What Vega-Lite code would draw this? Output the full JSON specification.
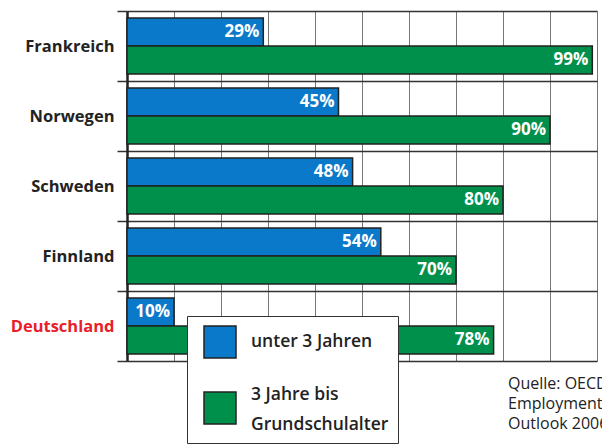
{
  "$schema": "https://vega.github.io/schema/vega-lite/v6.json",
  "width": 470,
  "height": 350,
  "autosize": "none",
  "padding": {"left": 127, "top": 11, "right": 5, "bottom": 84},
  "background": "white",
  "config": {
    "view": {"stroke": null},
    "font": "Open Sans",
    "legend": {"strokeColor": "#333"}
  },
  "title": {
    "text": ["Quelle: OECD", "Employment", "Outlook 2006"],
    "orient": "bottom",
    "anchor": "start",
    "frame": "group",
    "dx": 381,
    "offset": -68,
    "fontSize": 16,
    "fontWeight": "normal",
    "lineHeight": 20,
    "color": "#222"
  },
  "data": {
    "values": [
      {"land": "Frankreich", "gruppe": "unter 3 Jahren", "anteil": 0.29},
      {"land": "Frankreich", "gruppe": "3 Jahre bis Grundschulalter", "anteil": 0.99},
      {"land": "Norwegen", "gruppe": "unter 3 Jahren", "anteil": 0.45},
      {"land": "Norwegen", "gruppe": "3 Jahre bis Grundschulalter", "anteil": 0.90},
      {"land": "Schweden", "gruppe": "unter 3 Jahren", "anteil": 0.48},
      {"land": "Schweden", "gruppe": "3 Jahre bis Grundschulalter", "anteil": 0.80},
      {"land": "Finnland", "gruppe": "unter 3 Jahren", "anteil": 0.54},
      {"land": "Finnland", "gruppe": "3 Jahre bis Grundschulalter", "anteil": 0.70},
      {"land": "Deutschland", "gruppe": "unter 3 Jahren", "anteil": 0.10},
      {"land": "Deutschland", "gruppe": "3 Jahre bis Grundschulalter", "anteil": 0.78}
    ]
  },
  "encoding": {
    "y": {
      "field": "land",
      "type": "nominal",
      "sort": ["Frankreich", "Norwegen", "Schweden", "Finnland", "Deutschland"],
      "scale": {"paddingInner": 0, "paddingOuter": 0},
      "axis": {
        "title": null,
        "tickBand": "extent",
        "grid": true,
        "gridColor": "#333",
        "gridWidth": 1.5,
        "tickColor": "#333",
        "tickWidth": 1.5,
        "tickSize": 10,
        "domainColor": "#222",
        "domainWidth": 2.5,
        "labelFont": "Open Sans",
        "labelFontWeight": "bold",
        "labelFontSize": 16.5,
        "labelPadding": 3,
        "labelColor": {"condition": {"test": "datum.value == 'Deutschland'", "value": "#e8202a"}, "value": "#222"}
      }
    },
    "yOffset": {
      "field": "gruppe",
      "type": "nominal",
      "sort": ["unter 3 Jahren", "3 Jahre bis Grundschulalter"],
      "scale": {"paddingInner": 0, "paddingOuter": 0.25}
    },
    "x": {
      "field": "anteil",
      "type": "quantitative",
      "scale": {"domain": [0, 1], "nice": false},
      "axis": {
        "title": null,
        "labels": false,
        "ticks": false,
        "domain": false,
        "grid": true,
        "gridColor": "#777",
        "gridWidth": 1,
        "values": [0, 0.1, 0.2, 0.3, 0.4, 0.5, 0.6, 0.7, 0.8, 0.9, 1]
      }
    }
  },
  "layer": [
    {
      "mark": {"type": "bar", "stroke": "#222", "strokeWidth": 1.5},
      "encoding": {
        "color": {
          "field": "gruppe",
          "type": "nominal",
          "sort": ["unter 3 Jahren", "3 Jahre bis Grundschulalter"],
          "scale": {"domain": ["unter 3 Jahren", "3 Jahre bis Grundschulalter"], "range": ["#0a79c9", "#00904b"]},
          "legend": {
            "title": null,
            "orient": "none",
            "legendX": 60,
            "legendY": 305,
            "fillColor": "white",
            "strokeColor": "#333",
            "padding": 9,
            "symbolOffset": 7,
            "symbolType": "square",
            "symbolSize": 1024,
            "symbolStrokeColor": "#222",
            "symbolStrokeWidth": 1.5,
            "symbolOpacity": 1,
            "labelFont": "Open Sans",
            "labelFontSize": 17.5,
            "labelFontWeight": 600,
            "labelColor": "#222",
            "labelOffset": 14,
            "labelLimit": 300,
            "labelExpr": "datum.label == '3 Jahre bis Grundschulalter' ? ['3 Jahre bis', 'Grundschulalter'] : datum.label",
            "rowPadding": 25,
            "encode": {"labels": {"update": {"lineHeight": {"value": 30}, "dy": {"signal": "datum.label == '3 Jahre bis Grundschulalter' ? -13 : 0"}}}}
          }
        }
      }
    },
    {
      "mark": {"type": "text", "align": "right", "baseline": "middle", "dx": -4, "color": "white", "fontWeight": "bold", "fontSize": 17, "font": "Open Sans"},
      "encoding": {
        "text": {"field": "anteil", "type": "quantitative", "format": ".0%"}
      }
    }
  ]
}
